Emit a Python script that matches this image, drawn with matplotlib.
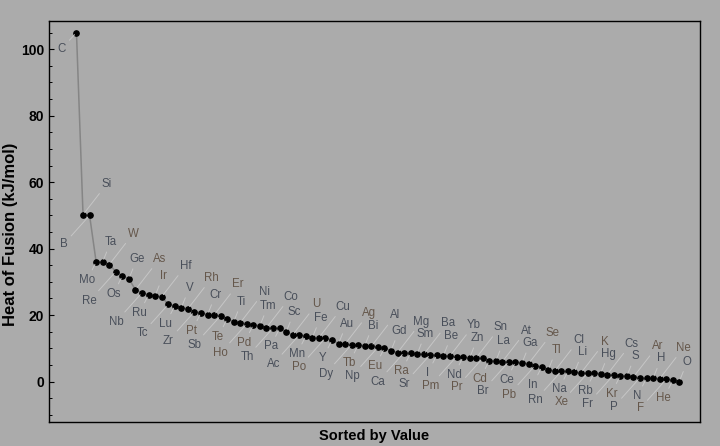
import matplotlib
matplotlib.use("Agg")
import matplotlib.pyplot as plt
from matplotlib.ticker import MultipleLocator

# elements sorted by heat of fusion (kJ/mol)
elements = ["C", "Si", "B", "Mo", "Ta", "W", "Re", "Os", "Ge", "As",
            "Nb", "Ru", "Ir", "Hf", "Tc", "Lu", "V", "Rh", "Zr", "Pt",
            "Cr", "Er", "Sb", "Te", "Ti", "Ni", "Ho", "Pd", "Tm", "Co",
            "Th", "Pa", "Sc", "U", "Ac", "Mn", "Fe", "Cu", "Po", "Y",
            "Au", "Ag", "Dy", "Tb", "Bi", "Al", "Np", "Eu", "Gd", "Mg",
            "Ca", "Ra", "Sm", "Ba", "Sr", "I", "Be", "Yb", "Pm", "Nd",
            "Zn", "Sn", "Pr", "Cd", "La", "At", "Br", "Ce", "Ga", "Se",
            "Pb", "In", "Tl", "Cl", "Rn", "Na", "Li", "K", "Xe", "Rb",
            "Hg", "Cs", "Fr", "Kr", "S", "Ar", "P", "N", "H", "Ne",
            "F", "He", "O"]
heat = [105, 50.2, 50.0, 36.0, 36.0, 35.2, 33.1, 31.8, 30.9, 27.6,
        26.7, 26.1, 25.8, 25.5, 23.2, 22.8, 22.2, 21.9, 21.0, 20.7,
        20.1, 20.0, 19.8, 18.9, 18.0, 17.7, 17.4, 17.1, 16.8, 16.2,
        16.1, 16.0, 14.9, 14.0, 14.0, 13.7, 13.2, 13.2, 13.1, 12.5,
        11.4, 11.3, 11.1, 11.0, 10.8, 10.6, 10.3, 10.1, 9.3, 8.7,
        8.7, 8.6, 8.3, 8.2, 8.1, 8.0, 7.8, 7.7, 7.5, 7.4,
        7.1, 7.1, 7.0, 6.3, 6.2, 6.0, 6.0, 5.9, 5.6, 5.4,
        4.8, 4.4, 3.5, 3.2, 3.1, 3.1, 2.8, 2.6, 2.5, 2.5,
        2.4, 2.1, 2.0, 1.8, 1.65, 1.35, 1.15, 1.05, 0.95, 0.85,
        0.65, 0.35, 0.0]

# labels drawn in the brownish tone
brown = ["W", "As", "Ir", "Rh", "Er", "Pt", "Te", "Ho", "Pd", "U", "Ag",
         "Tb", "Eu", "Po", "Ra", "Pm", "Pr", "Cd", "Pb", "Se", "Tl", "K",
         "Ar", "Ne", "F", "He", "Xe", "Kr"]

bg = "#ababab"
fig = plt.figure(figsize=(7.2, 4.46), dpi=100, facecolor=bg)
ax = fig.add_axes([48.5 / 720, 1 - 422.3 / 446, (700 - 48.5) / 720, (422.3 - 20.7) / 446])
ax.set_facecolor(bg)

x = list(range(len(heat)))
ax.plot(x, heat, color="#858585", lw=1.1, zorder=2)
ax.plot(x, heat, "o", color="black", ms=3.8, zorder=3)

# callout slots: far below, near below, near above, far above (pixels)
slots = [(-26, -29), (-9, -18), (8, 20), (24, 31)]
for i, (el, v) in enumerate(zip(elements, heat)):
    if i == 0:
        off = (-15, -16)
    else:
        off = slots[(i - 2) % 4]
    col = "#65574b" if el in brown else "#494f5a"
    ax.annotate(el, (i, v), xytext=off, textcoords="offset pixels",
                ha="center", va="center", fontsize=8.3, color=col,
                family="Liberation Sans", zorder=4,
                arrowprops=dict(arrowstyle="-", color="#c6c6c6", lw=0.7,
                                shrinkA=1, shrinkB=2))

ax.set_xlim(-4.27, 95.16)
ax.set_ylim(-12.28, 108.6)
ax.set_xticks([])
ax.yaxis.set_major_locator(MultipleLocator(20))
ax.yaxis.set_minor_locator(MultipleLocator(5))
ax.tick_params(axis="y", which="major", direction="in", length=3.6, width=0.8,
               pad=3, labelsize=10, colors="black")
ax.tick_params(axis="y", which="minor", direction="in", length=2.2, width=0.7)
for lab in ax.get_yticklabels():
    lab.set_fontweight("bold")
    lab.set_family("Liberation Sans")
for s in ax.spines.values():
    s.set_color("black")
    s.set_linewidth(1.0)

ax.set_ylabel("Heat of Fusion (kJ/mol)", fontsize=12, fontweight="bold",
              family="Liberation Sans")
ax.yaxis.set_label_coords(-0.047, 0.468)
ax.set_xlabel("Sorted by Value", fontsize=10.5, fontweight="bold",
              family="Liberation Sans", labelpad=5)

fig.savefig("out.png", dpi=100, facecolor=bg)
